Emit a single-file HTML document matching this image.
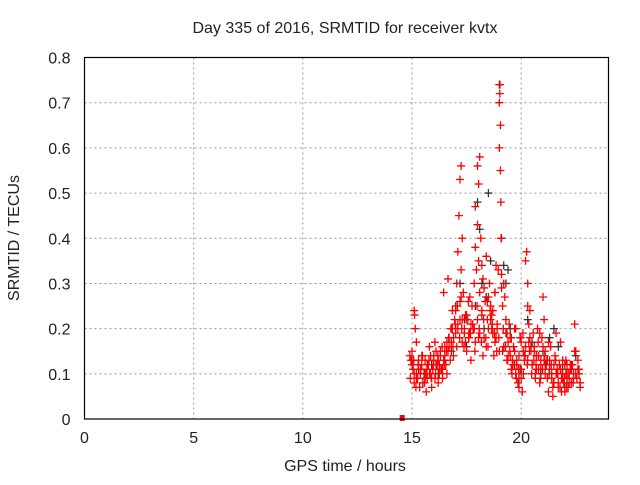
<!DOCTYPE html>
<html><head><meta charset="utf-8"><style>
body{margin:0;background:#fff}
svg text{font-family:"Liberation Sans",sans-serif;font-size:16px;fill:#222}
</style></head><body>
<svg id="chart" width="640" height="480" viewBox="0 0 640 480" xmlns="http://www.w3.org/2000/svg">
<rect width="640" height="480" fill="#fff"/>
<text x="345" y="33" text-anchor="middle">Day 335 of 2016, SRMTID for receiver kvtx</text>
<g id="grid"></g>
<g id="ticks"></g>
<g id="marks"></g>
<rect x="84.5" y="57.5" width="524" height="361.5" fill="none" stroke="#000" stroke-width="1.2"/>
<text x="345" y="471" text-anchor="middle">GPS time / hours</text>
<text transform="translate(19,238) rotate(-90)" text-anchor="middle">SRMTID / TECUs</text>
</svg>
<script>
const xTicks=[0,5,10,15,20];
const yTicks=[0,0.1,0.2,0.3,0.4,0.5,0.6,0.7,0.8];
const yTickLabels=["0","0.1","0.2","0.3","0.4","0.5","0.6","0.7","0.8"];
const darkT=[15.0,15.3,15.6,15.9,16.2,16.5,16.8,17.0,17.2,17.4,17.6,17.9,18.0,18.1,18.2,18.4,18.5,18.6,18.8,19.0,19.1,19.2,19.3,19.5,19.7,19.9,20.1,20.3,20.5,20.7,20.9,21.1,21.3,21.5,21.7,21.9,22.1,22.3,22.5,22.7,17.5,18.3,19.4,20.0,21.0,22.0];
const darkV=[0.13,0.11,0.09,0.12,0.1,0.13,0.15,0.2,0.3,0.22,0.18,0.25,0.48,0.42,0.3,0.27,0.5,0.35,0.28,0.74,0.4,0.34,0.3,0.2,0.12,0.09,0.15,0.22,0.17,0.14,0.1,0.12,0.18,0.2,0.16,0.11,0.09,0.12,0.14,0.08,0.16,0.2,0.33,0.11,0.15,0.07];
const redT=[14.55,14.9,14.95,15.0,15.05,15.1,15.1,15.12,15.15,15.2,15.2,15.25,15.3,15.35,15.4,15.45,15.5,15.55,15.6,15.65,15.7,15.75,15.8,15.85,15.9,15.95,16.0,16.05,16.1,16.15,16.2,16.25,16.3,16.35,16.4,16.45,16.5,16.55,16.6,16.65,16.7,16.75,16.8,16.85,16.9,16.95,17.0,17.0,17.05,17.1,17.1,17.15,17.2,17.2,17.25,17.25,17.3,17.3,17.35,17.4,17.45,17.5,17.55,17.6,17.65,17.7,17.75,17.8,17.85,17.9,17.9,17.95,18.0,18.0,18.05,18.05,18.1,18.1,18.15,18.2,18.2,18.25,18.3,18.35,18.4,18.45,18.5,18.55,18.6,18.65,18.7,18.75,18.8,18.85,18.9,18.95,19.0,19.0,19.02,19.03,19.05,19.05,19.07,19.08,19.1,19.1,19.15,19.2,19.25,19.3,19.35,19.4,19.45,19.5,19.55,19.6,19.65,19.7,19.75,19.8,19.85,19.9,19.95,20.0,20.05,20.1,20.15,20.2,20.25,20.3,20.3,20.35,20.35,20.4,20.45,20.5,20.55,20.6,20.65,20.7,20.75,20.8,20.85,20.9,20.95,21.0,21.05,21.1,21.15,21.2,21.25,21.3,21.35,21.4,21.45,21.5,21.55,21.6,21.65,21.7,21.75,21.8,21.85,21.9,21.95,22.0,22.05,22.1,22.15,22.2,22.25,22.3,22.35,22.4,22.45,22.5,22.55,22.6,22.65,22.7,
15.0,15.1,15.2,15.3,15.4,15.5,15.6,15.7,15.8,15.9,16.0,16.1,16.2,16.3,16.4,16.5,16.6,16.7,16.8,16.9,17.0,17.1,17.2,17.3,17.4,17.5,17.6,17.7,17.8,17.9,18.0,18.1,18.2,18.3,18.4,18.5,18.6,18.7,18.8,18.9,19.0,19.2,19.3,19.4,19.5,19.6,19.7,19.8,19.9,20.0,20.1,20.2,20.3,20.4,20.5,20.6,20.7,20.8,20.9,21.0,21.1,21.2,21.3,21.4,21.5,21.6,21.7,21.8,21.9,22.0,22.1,22.2,22.3,22.4,22.5,22.6,22.7,
15.05,15.25,15.45,15.65,15.85,16.05,16.25,16.45,16.65,16.85,17.05,17.25,17.45,17.65,17.85,18.05,18.25,18.45,18.65,18.85,19.15,19.35,19.55,19.75,19.95,20.15,20.45,20.65,20.85,21.05,21.25,21.45,21.65,21.85,22.05,22.25,22.45,22.65,
14.92,15.08,15.18,15.28,15.38,15.48,15.58,15.68,15.78,15.88,15.98,16.08,16.18,16.28,16.38,16.48,16.58,16.68,16.78,16.88,16.98,17.08,17.18,17.28,17.38,17.48,17.58,17.68,17.78,17.88,17.98,18.08,18.18,18.28,18.38,18.48,18.58,18.68,18.78,18.88,18.98,19.18,19.28,19.38,19.48,19.58,19.68,19.78,19.88,19.98,20.08,20.18,20.28,20.38,20.48,20.58,20.68,20.78,20.88,20.98,21.08,21.18,21.28,21.38,21.48,21.58,21.68,21.78,21.88,21.98,22.08,22.18,22.28,22.38,22.48,22.58,22.68];
const redV=[0.0,0.14,0.13,0.15,0.12,0.08,0.24,0.23,0.2,0.17,0.1,0.09,0.12,0.07,0.11,0.14,0.08,0.1,0.13,0.06,0.09,0.12,0.16,0.1,0.07,0.11,0.13,0.09,0.15,0.12,0.08,0.1,0.14,0.11,0.09,0.13,0.16,0.12,0.1,0.15,0.18,0.13,0.17,0.2,0.14,0.22,0.25,0.19,0.3,0.37,0.21,0.45,0.53,0.26,0.56,0.33,0.4,0.22,0.28,0.2,0.17,0.15,0.22,0.19,0.27,0.13,0.25,0.2,0.3,0.47,0.38,0.33,0.56,0.43,0.52,0.35,0.58,0.28,0.4,0.24,0.34,0.31,0.29,0.26,0.36,0.22,0.27,0.3,0.25,0.2,0.24,0.14,0.28,0.34,0.21,0.33,0.6,0.7,0.72,0.74,0.65,0.55,0.48,0.4,0.32,0.29,0.25,0.3,0.27,0.22,0.19,0.17,0.21,0.14,0.18,0.12,0.16,0.2,0.1,0.13,0.08,0.07,0.11,0.09,0.06,0.1,0.13,0.35,0.37,0.3,0.25,0.21,0.17,0.24,0.15,0.12,0.19,0.16,0.1,0.14,0.2,0.11,0.08,0.13,0.18,0.27,0.22,0.15,0.12,0.09,0.06,0.13,0.16,0.1,0.05,0.08,0.14,0.19,0.11,0.07,0.12,0.17,0.09,0.13,0.08,0.06,0.1,0.12,0.07,0.09,0.11,0.08,0.12,0.1,0.21,0.15,0.09,
0.11,0.1,0.08,0.12,0.1,0.09,0.13,0.11,0.08,0.1,0.12,0.1,0.09,0.14,0.12,0.13,0.15,0.11,0.14,0.17,0.16,0.2,0.18,0.24,0.2,0.22,0.17,0.19,0.23,0.18,0.21,0.2,0.17,0.22,0.19,0.23,0.18,0.16,0.2,0.22,0.19,0.17,0.2,0.15,0.16,0.19,0.14,0.18,0.13,0.15,0.12,0.14,0.17,0.15,0.16,0.13,0.18,0.12,0.15,0.11,0.14,0.12,0.16,0.1,0.13,0.11,0.09,0.12,0.1,0.08,0.11,0.09,0.12,0.1,0.08,0.11,0.09,
0.1,0.13,0.07,0.11,0.09,0.12,0.1,0.14,0.17,0.12,0.28,0.31,0.24,0.16,0.27,0.23,0.19,0.2,0.18,0.14,0.26,0.23,0.18,0.15,0.13,0.11,0.2,0.18,0.14,0.16,0.09,0.19,0.13,0.17,0.07,0.1,0.06,0.13,
0.12,0.15,0.11,0.09,0.13,0.07,0.12,0.1,0.14,0.08,0.11,0.13,0.09,0.12,0.1,0.14,0.11,0.16,0.12,0.15,0.18,0.2,0.16,0.21,0.25,0.18,0.2,0.16,0.22,0.26,0.19,0.21,0.15,0.25,0.2,0.17,0.22,0.18,0.16,0.24,0.21,0.19,0.15,0.18,0.2,0.16,0.13,0.15,0.1,0.12,0.09,0.11,0.18,0.19,0.14,0.12,0.15,0.1,0.13,0.12,0.17,0.09,0.11,0.14,0.13,0.1,0.12,0.08,0.13,0.1,0.07,0.1,0.09,0.07,0.1,0.12,0.08];
const X0=84.5,X1=608.5,Y0=419,Y1=57.5,XMAX=24,YMAX=0.8;
function xs(t){return X0+(t/XMAX)*(X1-X0);}
function ys(v){return Y0-(v/YMAX)*(Y0-Y1);}
const NS="http://www.w3.org/2000/svg";
const grid=document.getElementById('grid'),ticks=document.getElementById('ticks'),marks=document.getElementById('marks');
function mk(tag,attrs,parent){const e=document.createElementNS(NS,tag);for(const k in attrs)e.setAttribute(k,attrs[k]);parent.appendChild(e);return e;}
xTicks.forEach(t=>{
  const x=xs(t);
  if(t>0){const g=mk('line',{x1:x,x2:x,y1:Y1,y2:Y0,stroke:'#999','stroke-dasharray':'2,3'},grid);
  
  }
  const l=mk('text',{x:x,y:Y0+24,'text-anchor':'middle'},ticks);l.textContent=String(t);
  
  
});
yTicks.forEach((v,i)=>{
  const y=ys(v);
  if(v>0&&v<YMAX){const g=mk('line',{x1:X0,x2:X1,y1:y,y2:y,stroke:'#999','stroke-dasharray':'2,3'},grid);
  
  }
  const l=mk('text',{x:X0-14,y:y+6,'text-anchor':'end'},ticks);l.textContent=yTickLabels[i];
  
  
});
function plus(t,v,color,name){
  const x=xs(t),y=ys(v);
  const p=mk('path',{d:`M${x-4},${y}H${x+4}M${x},${y-4}V${y+4}`,stroke:color,'stroke-width':1.3,fill:'none'},marks);
  
  
}
darkT.forEach((t,i)=>plus(t,darkV[i],'#333','dark-point'));
redT.forEach((t,i)=>{
  if(redV[i]===0){const x=xs(t),y=ys(0);const r=mk('rect',{x:x-2.5,y:y-4,width:5,height:6,fill:'#f00'},marks);
  
  }
  else plus(t,redV[i],'#f00','red-point');
});
</script>
</body></html>
